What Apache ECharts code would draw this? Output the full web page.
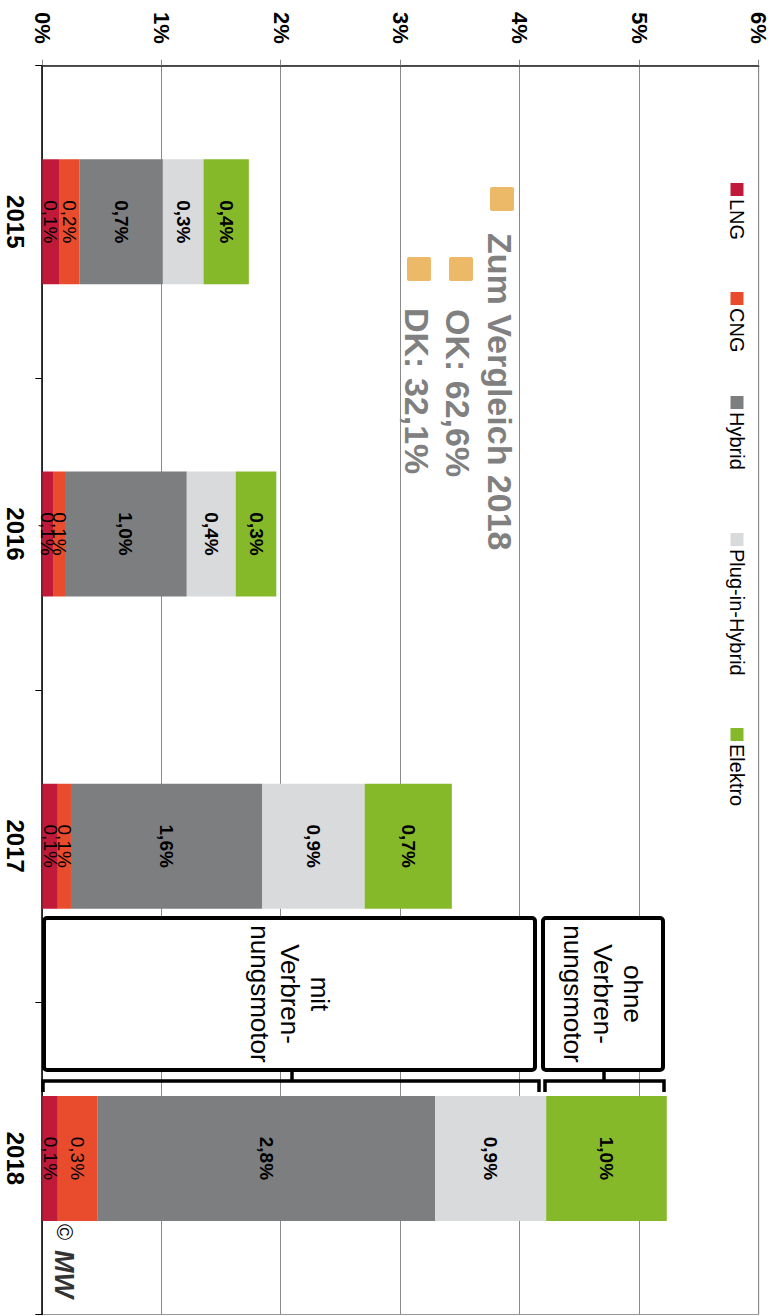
<!DOCTYPE html>
<html><head><meta charset="utf-8">
<script src="https://cdn.jsdelivr.net/npm/echarts@6/dist/echarts.min.js"></script>
<style>
html,body{margin:0;padding:0;width:774px;height:1316px;overflow:hidden;background:#fff;}
#chart{position:absolute;left:0;top:0;width:1316px;height:774px;transform-origin:0 0;transform:translate(774px,0) rotate(90deg);}
</style></head><body><div id="chart"></div>
<script>
const categories = ['2015','2016','2017','2018'];
const seriesNames = ['LNG','CNG','Hybrid','Plug-in-Hybrid','Elektro'];
const lng     = [0.14, 0.09, 0.13, 0.13];
const cng     = [0.17, 0.10, 0.11, 0.33];
const hybrid  = [0.70, 1.02, 1.60, 2.83];
const plugin  = [0.34, 0.41, 0.86, 0.93];
const elektro = [0.38, 0.34, 0.73, 1.01];
const valueTicks = [0, 1, 2, 3, 4, 5, 6];
const comparisonLines = ['Zum Vergleich 2018', 'OK: 62,6%', 'DK: 32,1%'];
const boxTexts = ['ohne\nVerbren-\nnungsmotor', 'mit\nVerbren-\nnungsmotor'];
const copyrightText = ['©', 'MW'];

const colors = ['#C01A3A', '#E94C2C', '#7D7E80', '#D9DADC', '#85B929'];
const seriesData = [lng, cng, hybrid, plugin, elektro];
const FONT = 'Liberation Sans, Arial, Helvetica, sans-serif';
const legendLefts = [183, 292, 396, 533, 728];

const fmt = v => v.toFixed(1).replace('.', ',') + '%';

const series = seriesNames.map((name, i) => ({
  name: name,
  type: 'bar',
  stack: 'total',
  barWidth: 125,
  data: seriesData[i],
  itemStyle: { color: colors[i] },
  label: {
    show: true,
    position: 'inside',
    color: '#000',
    fontFamily: FONT,
    fontSize: 19,
    fontWeight: i < 2 ? 'normal' : 'bold',
    formatter: p => fmt(p.value)
  },
  emphasis: { disabled: true },
  z: 2
}));

const legends = seriesNames.map((name, i) => ({
  data: [name],
  left: legendLefts[i],
  top: 27,
  padding: 0,
  itemWidth: 13,
  itemHeight: 13,
  itemGap: 0,
  icon: 'rect',
  textStyle: { fontFamily: FONT, fontSize: 20, color: '#000', padding: [0, 0, 0, -2] },
  selectedMode: false
}));

const orange = '#EBB967';
const grey = '#808080';
const graphics = [
  { type: 'rect', shape: { x: 187, y: 260, width: 24, height: 24, r: 2 }, style: { fill: orange } },
  { type: 'text', x: 233, y: 274, style: { text: comparisonLines[0], font: 'bold 34px ' + FONT, fill: grey, textVerticalAlign: 'middle' } },
  { type: 'rect', shape: { x: 257, y: 301, width: 24, height: 24, r: 2 }, style: { fill: orange } },
  { type: 'text', x: 309, y: 316, style: { text: comparisonLines[1], font: 'bold 34px ' + FONT, fill: grey, textVerticalAlign: 'middle' } },
  { type: 'rect', shape: { x: 257, y: 343, width: 24, height: 24, r: 2 }, style: { fill: orange } },
  { type: 'text', x: 308, y: 357, style: { text: comparisonLines[2], font: 'bold 34px ' + FONT, fill: grey, textVerticalAlign: 'middle' } },
  // boxes
  { type: 'rect', z: 10, shape: { x: 918, y: 111, width: 152, height: 120, r: 3 }, style: { fill: '#fff', stroke: '#000', lineWidth: 4 } },
  { type: 'text', z: 11, x: 994, y: 171, style: { text: boxTexts[0], font: '26px ' + FONT, lineHeight: 30, fill: '#000', textAlign: 'center', textVerticalAlign: 'middle' } },
  { type: 'rect', z: 10, shape: { x: 918, y: 239, width: 152, height: 491, r: 3 }, style: { fill: '#fff', stroke: '#000', lineWidth: 4 } },
  { type: 'text', z: 11, x: 994, y: 484, style: { text: boxTexts[1], font: '26px ' + FONT, lineHeight: 30, fill: '#000', textAlign: 'center', textVerticalAlign: 'middle' } },
  // brackets
  { type: 'polyline', z: 10, shape: { points: [[1092, 110], [1081, 110], [1081, 229], [1092, 229]] }, style: { stroke: '#000', lineWidth: 3.5, fill: null } },
  { type: 'line', z: 10, shape: { x1: 1071, y1: 170, x2: 1081, y2: 170 }, style: { stroke: '#000', lineWidth: 3.5 } },
  { type: 'polyline', z: 10, shape: { points: [[1092, 235], [1081, 235], [1081, 731], [1092, 731]] }, style: { stroke: '#000', lineWidth: 3.5, fill: null } },
  { type: 'line', z: 10, shape: { x1: 1071, y1: 482, x2: 1081, y2: 482 }, style: { stroke: '#000', lineWidth: 3.5 } },
  // copyright
  { type: 'text', z: 10, x: 1224, y: 710, style: { text: copyrightText[0], font: '22px ' + FONT, fill: '#000', textVerticalAlign: 'middle' } },
  { type: 'text', z: 10, x: 1250, y: 710, style: { text: copyrightText[1], font: 'italic 900 27px ' + FONT, fill: '#333', textVerticalAlign: 'middle' } }
];

const chart = echarts.init(document.getElementById('chart'), null, { renderer: 'svg', width: 1316, height: 774 });
chart.setOption({
  animation: false,
  backgroundColor: '#fff',
  grid: { left: 65.7, right: 1.5, top: 15.3, bottom: 42.3, show: true, borderColor: '#999', borderWidth: 1, containLabel: false },
  legend: legends,
  xAxis: {
    type: 'category',
    data: categories,
    axisLine: { lineStyle: { color: '#000', width: 1.5 } },
    axisTick: { show: true, length: 7, lineStyle: { color: '#000' } },
    axisLabel: { fontFamily: FONT, fontSize: 24, fontWeight: 'bold', color: '#000', margin: 15 }
  },
  yAxis: {
    type: 'value',
    min: valueTicks[0],
    max: valueTicks[valueTicks.length - 1],
    interval: 1,
    axisLine: { show: true, lineStyle: { color: '#222', width: 1.5 } },
    axisTick: { show: true, length: 6, lineStyle: { color: '#888' } },
    splitLine: { show: true, lineStyle: { color: '#8a8a8a', width: 1 } },
    axisLabel: { fontFamily: FONT, fontSize: 22, fontWeight: 'bold', color: '#000', margin: 22, formatter: v => v + '%' }
  },
  series: series,
  graphic: graphics
});
</script></body></html>
